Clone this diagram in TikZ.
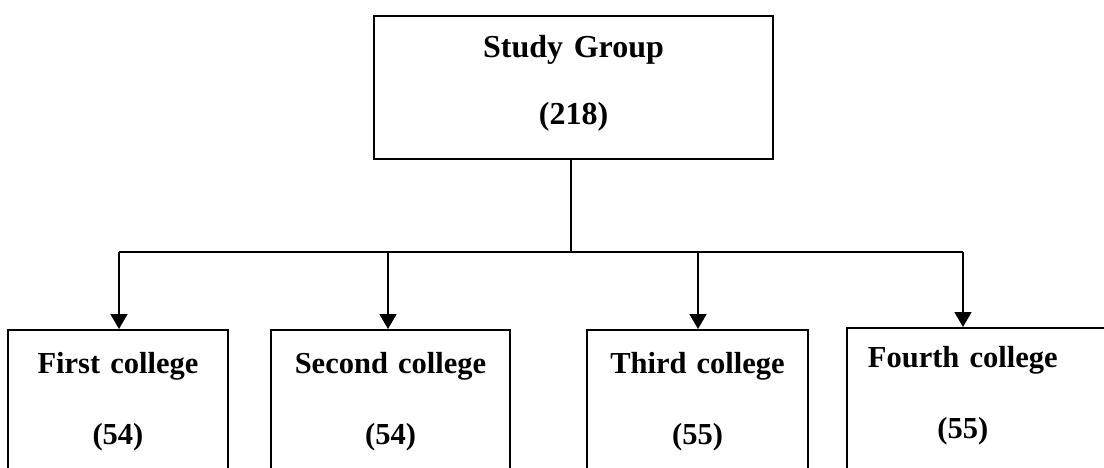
\documentclass[tikz,border=0pt]{standalone}
\usepackage{fontspec}
\newfontfamily\boxfont{Liberation Serif}
\usetikzlibrary{arrows.meta}

\begin{document}
\begin{tikzpicture}[x=1pt, y=-1pt, line width=1.6pt,
  box/.style={draw, inner xsep=0pt, inner ysep=0pt, align=center, anchor=north},
  college/.style={box, font=\boxfont\bfseries\fontsize{30.5}{71}\selectfont, text height=44pt, text depth=160pt},
  arr/.style={-{Triangle[length=15pt,width=17pt]}}]

\clip (0,0) rectangle (1104,468);

\node [box, text width=399pt, text height=42pt, text depth=101pt, font=\boxfont\bfseries\fontsize{32}{67}\selectfont] (group) at (573.5,15) {Study Group\\(218)};

\node [college, text width=220pt] (first) at (118,329) {First college\\(54)};
\node [college, text width=239pt] (second) at (390.5,329) {Second college\\(54)};
\node [college, text width=221pt] (third) at (697.5,329) {Third college\\(55)};
\node [college, text width=290pt, align=left, anchor=north west, text height=40pt] (fourth) at (846,327) {\makebox[232pt]{Fourth college}\\\makebox[232pt]{(55)}};

\coordinate (hub) at (571,252);
\coordinate (b1) at (119,252);
\coordinate (b2) at (388,252);
\coordinate (b3) at (698,252);
\coordinate (b4) at (963,252);

\draw (hub |- group.south) -- (hub);
\draw (b1) -- (b4);

\draw [arr] (b1) -- (b1 |- first.north);
\draw [arr] (b2) -- (b2 |- second.north);
\draw [arr] (b3) -- (b3 |- third.north);
\draw [arr] (b4) -- (b4 |- fourth.north);

\end{tikzpicture}
\end{document}
